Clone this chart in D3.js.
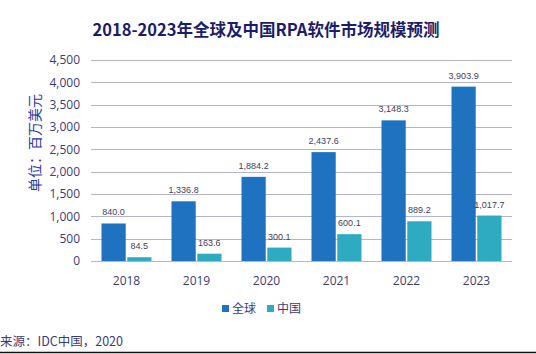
<!DOCTYPE html>
<html><head><meta charset="utf-8">
<script src="https://cdn.jsdelivr.net/npm/d3@7"></script>
<style>body{margin:0;background:#fff}svg{display:block;font-family:"Noto Sans CJK SC","Noto Sans",sans-serif}</style>
</head><body><svg id="c" width="536" height="354"></svg>
<script>
const years = ["2018","2019","2020","2021","2022","2023"];
const globalVals = [840.0, 1336.8, 1884.2, 2437.6, 3148.3, 3903.9];
const chinaVals = [84.5, 163.6, 300.1, 600.1, 889.2, 1017.7];
const seriesNames = ["全球","中国"];
const yTicks = [0,500,1000,1500,2000,2500,3000,3500,4000,4500];

const colors = ["#1f72bf","#2eaac1"];
const svg = d3.select("#c");
svg.append("rect").attr("width",536).attr("height",354).attr("fill","#fff");

const x = d3.scaleBand().domain(years).range([91.5,511.5]).paddingInner(0.2857).paddingOuter(0.1428);
const xs = d3.scaleBand().domain(seriesNames).range([0,x.bandwidth()]).paddingInner(0.06);
const y = d3.scaleLinear().domain([0,4500]).range([261,60]);

svg.append("text").attr("x",266).attr("y",36).attr("text-anchor","middle")
  .attr("font-size",16.5).attr("font-weight","bold").attr("fill","#1c1c6b")
  .text("2018-2023年全球及中国RPA软件市场规模预测");

// grid
svg.append("g").selectAll("line").data(yTicks).join("line")
  .attr("x1",91).attr("x2",512).attr("y1",d=>Math.round(y(d))+0.5).attr("y2",d=>Math.round(y(d))+0.5)
  .attr("stroke","#b4b4d0").attr("stroke-width",1);

// y axis labels
const yAxis = d3.axisLeft(y).tickValues(yTicks).tickFormat(d3.format(",")).tickSize(0).tickPadding(0);
const ga = svg.append("g").attr("transform","translate(80,0)").call(yAxis);
ga.select(".domain").remove();
ga.selectAll("text").attr("font-size",12).attr("fill","#3b3b78").attr("font-family","'Open Sans','Noto Sans',sans-serif");

// x axis labels
const xAxis = d3.axisBottom(x).tickSize(0).tickPadding(0);
const gx = svg.append("g").attr("transform","translate(0,276)").call(xAxis);
gx.select(".domain").remove();
gx.selectAll("text").attr("font-size",12).attr("fill","#3b3b78").attr("font-family","'Open Sans','Noto Sans',sans-serif");

const data = years.map((yr,i)=>({yr, vals:[globalVals[i], chinaVals[i]]}));
const groups = svg.append("g").selectAll("g").data(data).join("g").attr("transform",d=>`translate(${x(d.yr)},0)`);
groups.selectAll("rect").data(d=>d.vals.map((v,j)=>({v,s:seriesNames[j],j}))).join("rect")
  .attr("x",d=>xs(d.s)).attr("width",xs.bandwidth())
  .attr("y",d=>y(d.v)).attr("height",d=>y(0)-y(d.v)).attr("fill",d=>colors[d.j]);
groups.selectAll("text.lab").data(d=>d.vals.map((v,j)=>({v,s:seriesNames[j],j}))).join("text").attr("class","lab")
  .attr("x",d=>xs(d.s)+xs.bandwidth()/2).attr("y",d=>y(d.v)-8).attr("text-anchor","middle")
  .attr("font-size",9).attr("fill","#404060").attr("font-family","'Liberation Sans',Arial,sans-serif")
  .text(d=>d3.format(",.1f")(d.v));

// y title
svg.append("text").attr("transform","translate(40,143) rotate(-90)").attr("text-anchor","middle")
  .attr("font-size",14).attr("fill","#2a3a9e").text("单位：百万美元");

// legend
const leg = svg.append("g").attr("transform","translate(222,309)");
seriesNames.forEach((n,i)=>{
  const g = leg.append("g").attr("transform",`translate(${i*45},0)`);
  g.append("rect").attr("x",0).attr("y",-4).attr("width",7).attr("height",7).attr("fill",colors[i]);
  g.append("text").attr("x",10).attr("y",0).attr("dy","0.35em").attr("font-size",12).attr("fill","#3b3b78").text(n);
});

// source
svg.append("text").attr("x",0).attr("y",346).attr("font-size",12.5).attr("fill","#3b3b78").text("来源：IDC中国，2020");
svg.append("line").attr("x1",0).attr("x2",536).attr("y1",352.5).attr("y2",352.5).attr("stroke","#111").attr("stroke-width",1.5);
</script></body></html>
